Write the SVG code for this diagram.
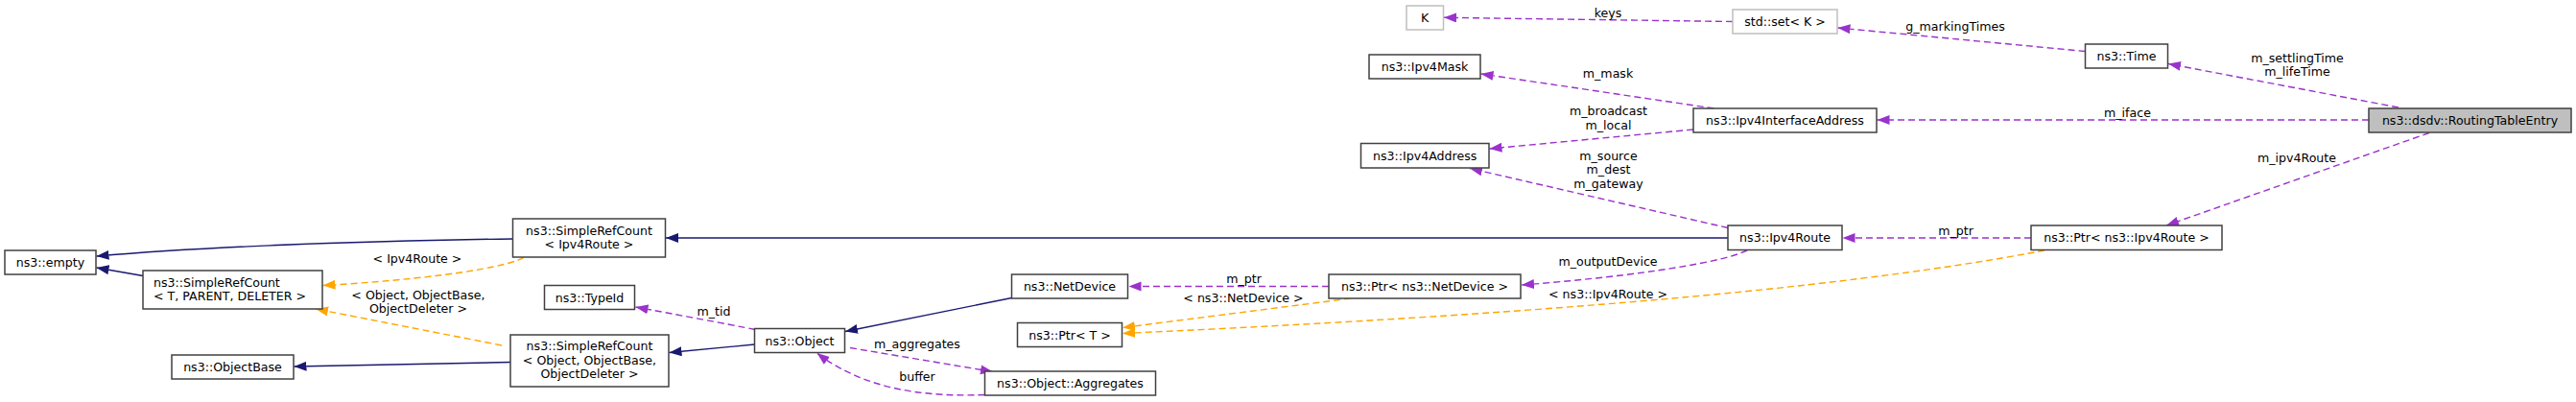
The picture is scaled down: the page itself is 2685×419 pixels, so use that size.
<svg xmlns="http://www.w3.org/2000/svg" width="2685" height="419" viewBox="0 0 2685 419">
<style>
.n rect{fill:#fff;stroke:#404040;stroke-width:1.5}
.n.g rect{stroke:#bfbfbf}
.n.cur rect{fill:#bfbfbf}
text{font-family:"DejaVu Sans","Liberation Sans",sans-serif;font-size:12.6px;fill:#000}
.c{text-anchor:middle}
.e{fill:none;stroke-width:1.4}
.b{stroke:#191970}
.p{stroke:#9a32cd;stroke-dasharray:7,4}
.o{stroke:#ffa500;stroke-dasharray:7,4}
</style>
<defs>
<marker id="ab" markerUnits="userSpaceOnUse" markerWidth="14" markerHeight="11" refX="13" refY="5" orient="auto"><path d="M0,0 L13,5 L0,10 z" fill="#191970"/></marker>
<marker id="ap" markerUnits="userSpaceOnUse" markerWidth="14" markerHeight="11" refX="13" refY="5" orient="auto"><path d="M0,0 L13,5 L0,10 z" fill="#9a32cd"/></marker>
<marker id="ao" markerUnits="userSpaceOnUse" markerWidth="14" markerHeight="11" refX="13" refY="5" orient="auto"><path d="M0,0 L13,5 L0,10 z" fill="#ffa500"/></marker>
</defs>
<rect width="2685" height="419" fill="#fff"/>
<g id="edges">
<path class="e b" marker-end="url(#ab)" d="M534,249 C450,250 250,254 100.5,267"/>
<path class="e b" marker-end="url(#ab)" d="M149,287.5 L100.5,279"/>
<path class="e b" marker-end="url(#ab)" d="M1801,248 L694,248"/>
<path class="e o" marker-end="url(#ao)" d="M546,268.5 C520,282 420,293 336.5,297.5"/>
<text class="c" x="435" y="273.5">&lt; Ipv4Route &gt;</text>
<path class="e o" marker-end="url(#ao)" d="M523,360 L329,322"/>
<text class="c" x="436" y="311.5">&lt; Object, ObjectBase,</text>
<text class="c" x="436" y="325.5">ObjectDeleter &gt;</text>
<path class="e b" marker-end="url(#ab)" d="M532,377.5 L306.5,382"/>
<path class="e b" marker-end="url(#ab)" d="M786.5,359 L697.5,367.5"/>
<path class="e p" marker-end="url(#ap)" d="M787,343.5 C760,338 700,327 662.5,320"/>
<text class="c" x="744" y="328.5">m_tid</text>
<path class="e b" marker-end="url(#ab)" d="M1054.5,310.5 L881,345.5"/>
<path class="e p" marker-end="url(#ap)" d="M886,362.5 L1035,387.5"/>
<text class="c" x="956" y="363">m_aggregates</text>
<path class="e p" marker-end="url(#ap)" d="M1026.5,411.5 C960,414 900,405 851.5,368"/>
<text class="c" x="956" y="396.5">buffer</text>
<path class="e p" marker-end="url(#ap)" d="M1385,298.5 L1176.5,298.5"/>
<text class="c" x="1296.5" y="294.5">m_ptr</text>
<path class="e o" marker-end="url(#ao)" d="M1408,311 L1170,341.5"/>
<text class="c" x="1296" y="314.5">&lt; ns3::NetDevice &gt;</text>
<path class="e o" marker-end="url(#ao)" d="M2131,261 C1900,305 1550,330 1170,347.5"/>
<text class="c" x="1676" y="311">&lt; ns3::Ipv4Route &gt;</text>
<path class="e p" marker-end="url(#ap)" d="M1821,261 C1790,276 1680,290 1586,297"/>
<text class="c" x="1676" y="277">m_outputDevice</text>
<path class="e p" marker-end="url(#ap)" d="M1801,237.5 L1532,175.5"/>
<text class="c" x="1676.5" y="167">m_source</text>
<text class="c" x="1676.5" y="181">m_dest</text>
<text class="c" x="1676.5" y="196">m_gateway</text>
<path class="e p" marker-end="url(#ap)" d="M1765,135 L1552.5,155"/>
<text class="c" x="1676.5" y="120">m_broadcast</text>
<text class="c" x="1676.5" y="134.5">m_local</text>
<path class="e p" marker-end="url(#ap)" d="M2117,248 L1920.5,248"/>
<text class="c" x="2038.5" y="244.5">m_ptr</text>
<path class="e p" marker-end="url(#ap)" d="M2532,138.5 L2258,235"/>
<text class="c" x="2394" y="169">m_ipv4Route</text>
<path class="e p" marker-end="url(#ap)" d="M2469,125 L1956.5,125"/>
<text class="c" x="2217.5" y="121.5">m_iface</text>
<path class="e p" marker-end="url(#ap)" d="M2500,112 L2260,66.5"/>
<text class="c" x="2394.5" y="64.5">m_settlingTime</text>
<text class="c" x="2394.5" y="78.8">m_lifeTime</text>
<path class="e p" marker-end="url(#ap)" d="M2173.5,53.5 L1915.5,29"/>
<text class="c" x="2038" y="31.5">g_markingTimes</text>
<path class="e p" marker-end="url(#ap)" d="M1806,22.5 L1505,18.3"/>
<text class="c" x="1676" y="17.5">keys</text>
<path class="e p" marker-end="url(#ap)" d="M1786.5,113 L1543.5,77"/>
<text class="c" x="1676" y="81">m_mask</text>
</g>
<g id="n_empty" class="n"><rect x="5" y="261" width="95" height="25"/><text class="c" x="52.5" y="278">ns3::empty</text></g>
<g id="n_src_t" class="n"><rect x="149" y="282" width="187" height="40"/><text x="160" y="298.5">ns3::SimpleRefCount</text><text x="160" y="312.5">&lt; T, PARENT, DELETER &gt;</text></g>
<g id="n_src_ipv4route" class="n"><rect x="534.5" y="228" width="159" height="40"/><text class="c" x="614" y="244.5">ns3::SimpleRefCount</text><text class="c" x="614" y="258.5">&lt; Ipv4Route &gt;</text></g>
<g id="n_typeid" class="n"><rect x="567.5" y="297.5" width="94" height="25"/><text class="c" x="614.5" y="314.5">ns3::TypeId</text></g>
<g id="n_objectbase" class="n"><rect x="179" y="370" width="127" height="25"/><text class="c" x="242.5" y="387">ns3::ObjectBase</text></g>
<g id="n_src_object" class="n"><rect x="532" y="349" width="165" height="54"/><text class="c" x="614.5" y="365">ns3::SimpleRefCount</text><text class="c" x="614.5" y="379.5">&lt; Object, ObjectBase,</text><text class="c" x="614.5" y="394">ObjectDeleter &gt;</text></g>
<g id="n_object" class="n"><rect x="786.5" y="342.5" width="94" height="25"/><text class="c" x="833.5" y="359.5">ns3::Object</text></g>
<g id="n_netdevice" class="n"><rect x="1054.5" y="286" width="121" height="25"/><text class="c" x="1115" y="303">ns3::NetDevice</text></g>
<g id="n_ptr_t" class="n"><rect x="1060.5" y="336.5" width="109" height="25"/><text class="c" x="1115" y="353.5">ns3::Ptr&lt; T &gt;</text></g>
<g id="n_aggregates" class="n"><rect x="1026.5" y="387" width="178" height="25"/><text class="c" x="1115.5" y="404">ns3::Object::Aggregates</text></g>
<g id="n_ptr_netdevice" class="n"><rect x="1385" y="286" width="200" height="25"/><text class="c" x="1485" y="303">ns3::Ptr&lt; ns3::NetDevice &gt;</text></g>
<g id="n_ipv4address" class="n"><rect x="1418.5" y="149.5" width="133.5" height="25.5"/><text class="c" x="1485.2" y="166.5">ns3::Ipv4Address</text></g>
<g id="n_ipv4mask" class="n"><rect x="1427" y="57" width="116" height="25"/><text class="c" x="1485" y="74">ns3::Ipv4Mask</text></g>
<g id="n_k" class="n g"><rect x="1466" y="6" width="38.5" height="25"/><text class="c" x="1485.2" y="23">K</text></g>
<g id="n_stdset" class="n g"><rect x="1806" y="10" width="109" height="25"/><text class="c" x="1860.5" y="27">std::set&lt; K &gt;</text></g>
<g id="n_iia" class="n"><rect x="1765" y="113" width="191" height="25"/><text class="c" x="1860.5" y="130">ns3::Ipv4InterfaceAddress</text></g>
<g id="n_ipv4route" class="n"><rect x="1801" y="235" width="119" height="25.5"/><text class="c" x="1860.5" y="252">ns3::Ipv4Route</text></g>
<g id="n_ptr_ipv4route" class="n"><rect x="2117" y="235" width="199" height="25.5"/><text class="c" x="2216.5" y="252">ns3::Ptr&lt; ns3::Ipv4Route &gt;</text></g>
<g id="n_time" class="n"><rect x="2173.5" y="46" width="86" height="25"/><text class="c" x="2216.5" y="63">ns3::Time</text></g>
<g id="n_rte" class="n cur"><rect x="2469" y="113" width="211" height="25"/><text class="c" x="2574.5" y="130">ns3::dsdv::RoutingTableEntry</text></g>
</svg>
